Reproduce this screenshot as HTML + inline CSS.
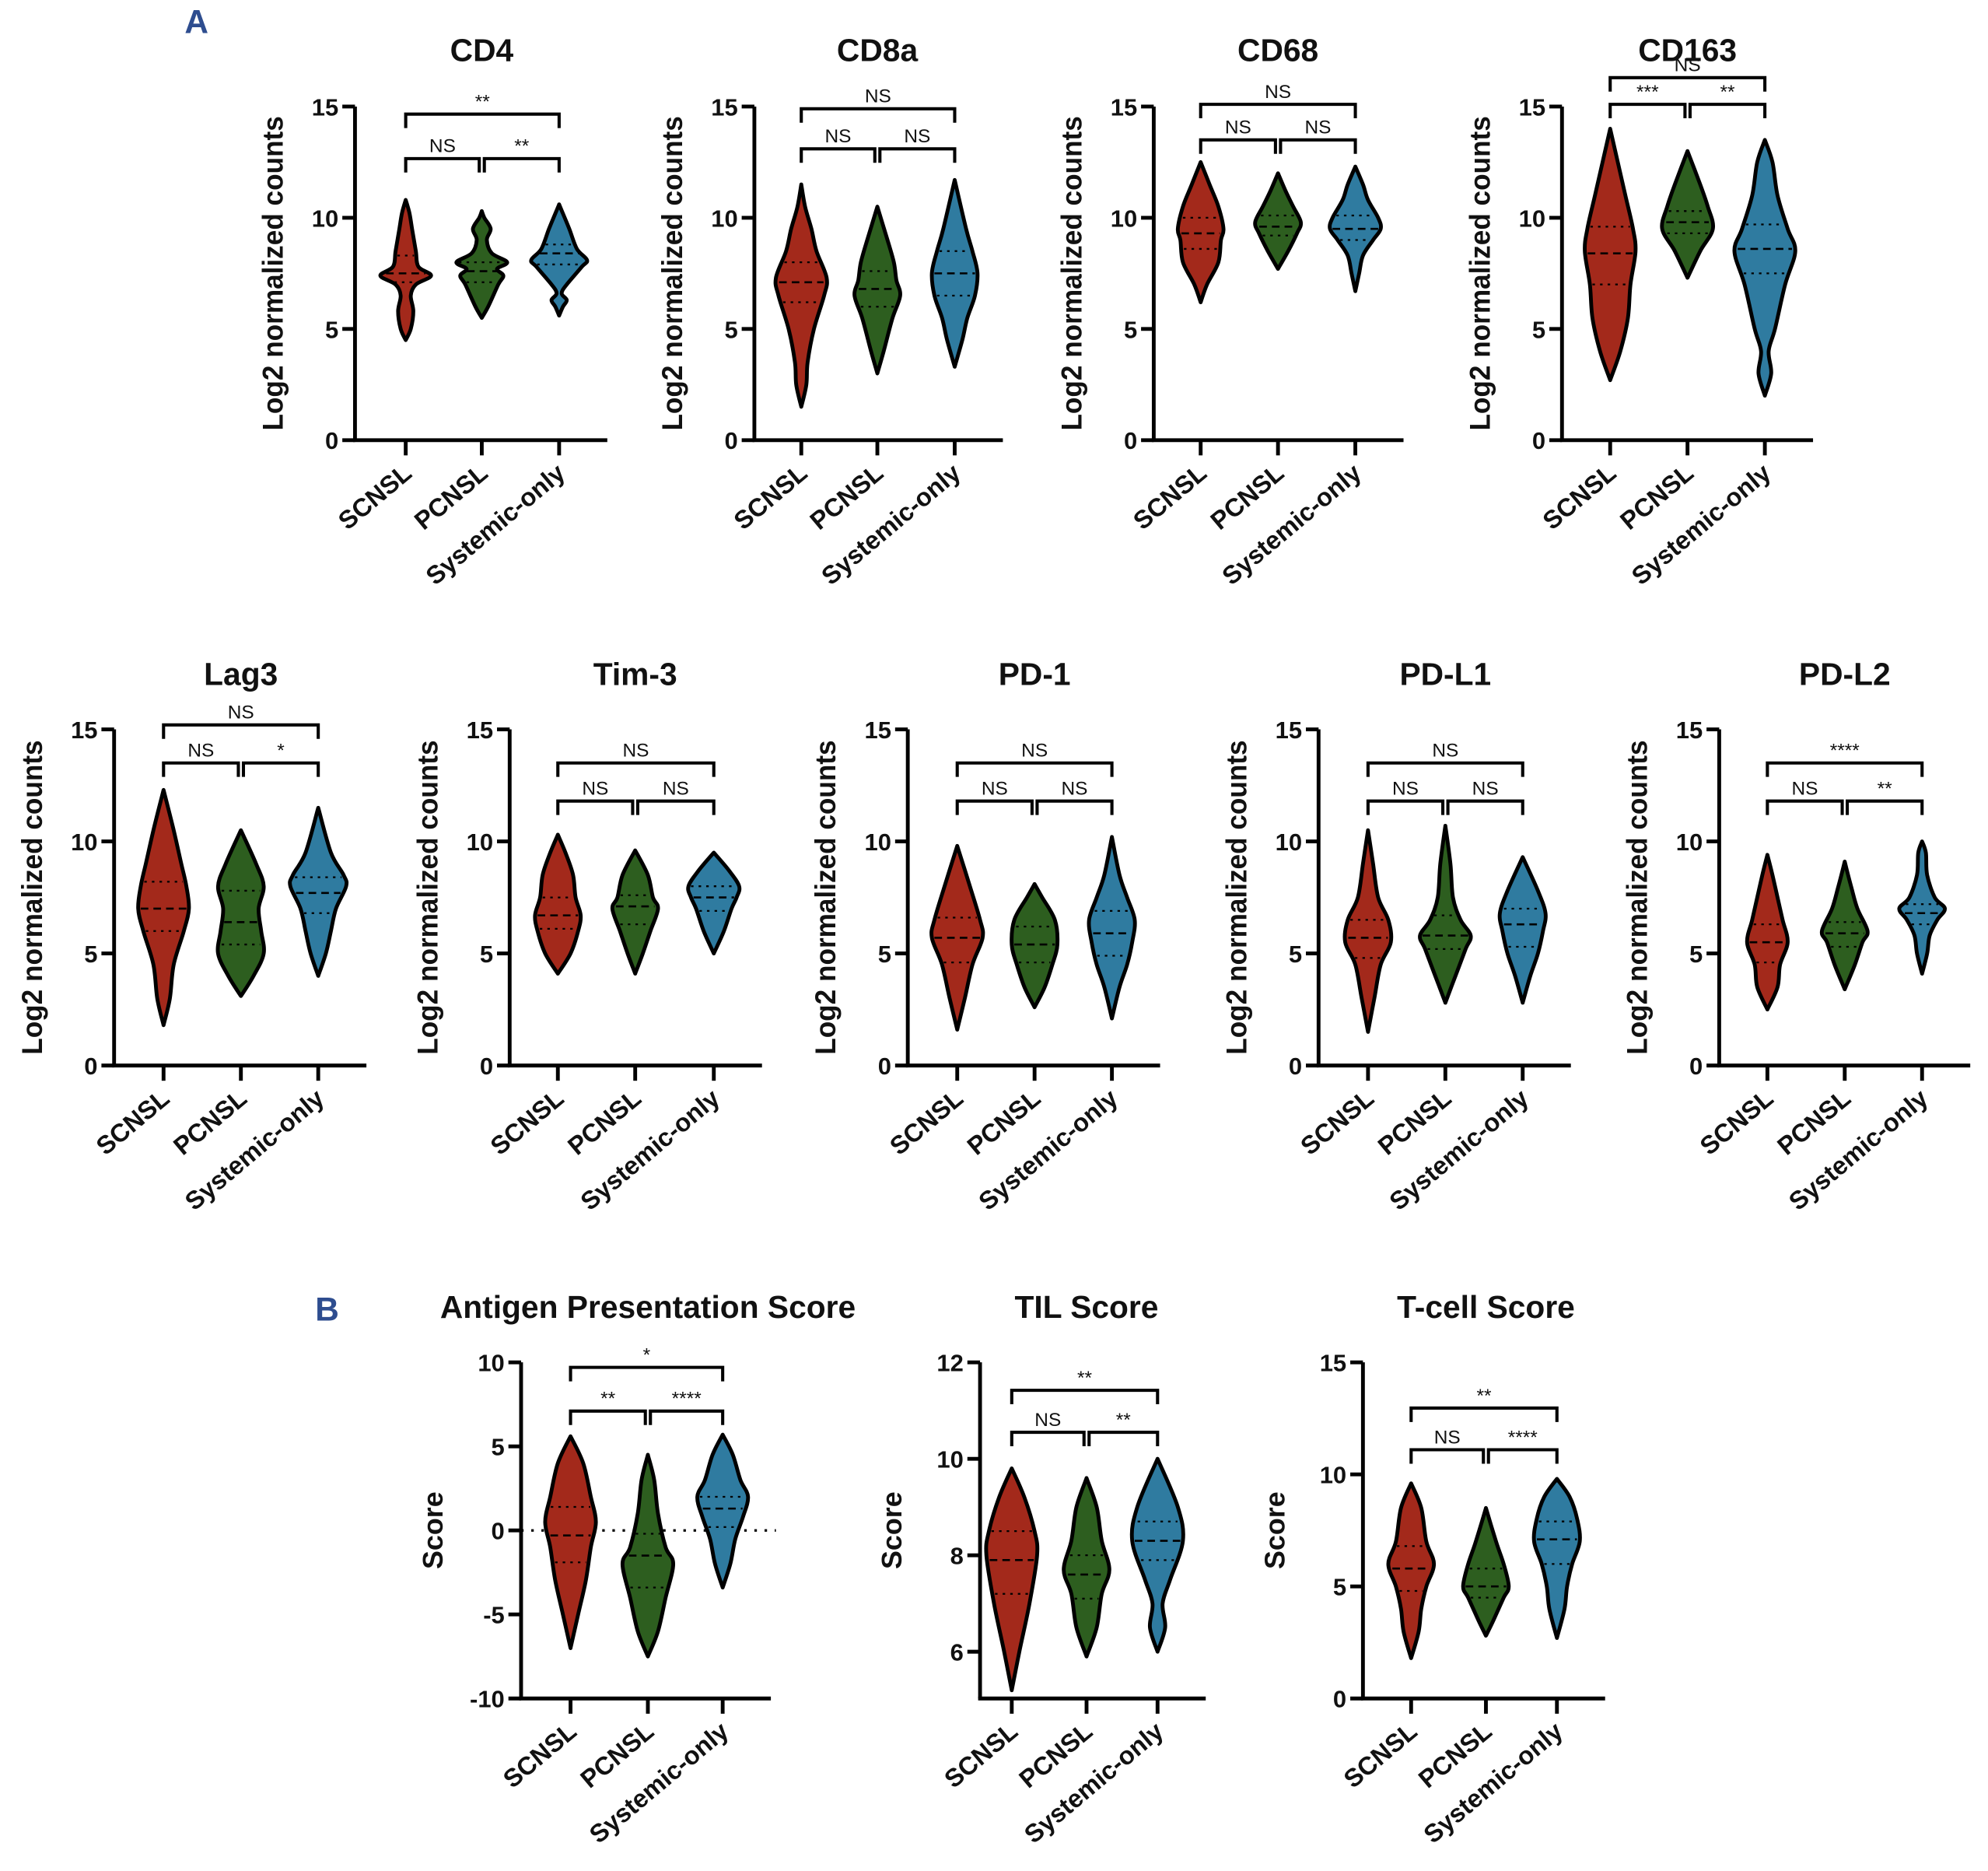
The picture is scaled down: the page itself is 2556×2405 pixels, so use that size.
<!DOCTYPE html>
<html><head><meta charset="utf-8"><style>
html,body{margin:0;padding:0;background:#fff}
svg{display:block}
text{font-family:"Liberation Sans",Arial,sans-serif}
</style></head><body>
<svg id="fig" xmlns="http://www.w3.org/2000/svg" width="2556" height="2405" viewBox="0 0 1568 1475" preserveAspectRatio="none">
<rect width="1568" height="1475" fill="#fff"/>
<text x="155" y="26" font-size="26" font-weight="bold" fill="#2e4d8f" text-anchor="middle">A</text>
<text x="258" y="1041" font-size="26" font-weight="bold" fill="#2e4d8f" text-anchor="middle">B</text>
</svg>
<script>
const groups = ["SCNSL","PCNSL","Systemic-only"];
const colors = ["#a3291b","#2d5e1f","#2f7ba0"];

const titles = ["CD4","CD8a","CD68","CD163","Lag3","Tim-3","PD-1","PD-L1","PD-L2","Antigen Presentation Score","TIL Score","T-cell Score"];
const yLabels = ["Log2 normalized counts","Log2 normalized counts","Log2 normalized counts","Log2 normalized counts","Log2 normalized counts","Log2 normalized counts","Log2 normalized counts","Log2 normalized counts","Log2 normalized counts","Score","Score","Score"];
const yMins = [0,0,0,0,0,0,0,0,0,-10,5.03,0];
const yMaxs = [15,15,15,15,15,15,15,15,15,10,12,15];
const tickSets = [[0,5,10,15],[0,5,10,15],[0,5,10,15],[0,5,10,15],[0,5,10,15],[0,5,10,15],[0,5,10,15],[0,5,10,15],[0,5,10,15],[-10,-5,0,5,10],[6,8,10,12],[0,5,10,15]];

const profiles = [
 [[[4.5,0],[5,4],[5.8,6],[6.5,4],[7,8],[7.4,20],[7.8,10],[8.5,8],[9.5,5],[10.2,3],[10.8,0]],
  [[5.5,0],[6,5],[7,13],[7.4,17],[7.7,12],[8,20],[8.4,8],[9,4],[9.5,7],[10,2],[10.3,0]],
  [[5.6,0],[6,3],[6.3,6],[6.6,2],[7,6],[7.8,18],[8.1,22],[8.6,14],[9.5,8],[10.6,0]]],
 [[[1.5,0],[2.5,4],[3.5,5],[5,10],[6.5,18],[7.3,20],[8.5,12],[9.5,8],[10.5,3],[11.5,0]],
  [[3,0],[4,5],[5.5,12],[6.5,18],[7.2,15],[8,13],[9,8],[10.5,0]],
  [[3.3,0],[4.5,6],[5.5,10],[6.5,16],[7.5,18],[8.5,14],[9.5,9],[11.7,0]]],
 [[[6.2,0],[7,5],[8,14],[9,16],[9.5,18],[10.5,14],[11.5,7],[12.5,0]],
  [[7.7,0],[8.5,8],[9.3,15],[9.8,18],[10.5,12],[11.2,6],[12,0]],
  [[6.7,0],[7.5,3],[8.3,6],[9,14],[9.5,20],[10,18],[10.8,10],[11.5,6],[12.3,0]]],
 [[[2.7,0],[4,8],[5.5,14],[7,16],[8.5,20],[9.5,18],[11,12],[12.5,6],[14,0]],
  [[7.3,0],[8.5,10],[9.5,20],[10.5,16],[11.5,10],[13,0]],
  [[2,0],[3,5],[4,3],[5,8],[7,16],[8.5,24],[9.5,18],[11,10],[12.5,6],[13.5,0]]],
 [[[1.8,0],[3,5],[4.5,8],[6,16],[7,20],[8,18],[9,14],[10.5,8],[12.3,0]],
  [[3.1,0],[4,10],[5,18],[6,16],[7,14],[8,18],[9,12],[10.5,0]],
  [[4,0],[5,6],[6,10],[7,14],[8,22],[8.5,20],[9.5,10],[11.5,0]]],
 [[[4.1,0],[5,10],[6,16],[6.7,18],[7.5,14],[8.5,12],[9.5,6],[10.3,0]],
  [[4.1,0],[5,6],[6,12],[7,18],[7.5,14],[8.5,10],[9.6,0]],
  [[5,0],[6,8],[7,14],[7.5,18],[8,20],[8.7,12],[9.5,0]]],
 [[[1.6,0],[3,6],[4.5,12],[5.7,20],[6.5,18],[8,10],[9.8,0]],
  [[2.6,0],[3.5,8],[4.5,14],[5.4,18],[6.5,16],[7.5,6],[8.1,0]],
  [[2.1,0],[3.5,6],[4.5,12],[5.5,16],[6.5,18],[7.5,12],[8.5,6],[10.2,0]]],
 [[[1.5,0],[3,5],[4.5,10],[5.5,18],[6.5,16],[7.5,8],[9,4],[10.5,0]],
  [[2.8,0],[4,8],[5.2,16],[5.8,20],[6.5,12],[7.5,6],[9,4],[10.7,0]],
  [[2.8,0],[4,6],[5,12],[6,16],[6.8,18],[7.8,12],[9.3,0]]],
 [[[2.5,0],[3.5,8],[4.5,10],[5.5,16],[6.5,12],[7.5,8],[8.5,4],[9.4,0]],
  [[3.4,0],[4.5,8],[5.5,14],[6,18],[7,10],[8,5],[9.1,0]],
  [[4.1,0],[5,4],[5.8,6],[6.5,12],[7,18],[7.5,10],[8.5,4],[9.5,3],[10,0]]],
 [[[-7,0],[-5,6],[-3,12],[-1,16],[0.5,20],[2,16],[4,10],[5.6,0]],
  [[-7.5,0],[-6,8],[-4,14],[-2,20],[-1,14],[1,8],[3,5],[4.5,0]],
  [[-3.4,0],[-2,6],[-0.5,10],[0.8,16],[2,20],[3,14],[4.5,8],[5.7,0]]],
 [[[5.2,0],[6,6],[7,14],[8,20],[8.5,18],[9.2,10],[9.8,0]],
  [[5.9,0],[6.5,8],[7.2,12],[7.7,18],[8.3,12],[9,8],[9.6,0]],
  [[6,0],[6.5,6],[7,4],[7.5,10],[8.3,20],[9,16],[10,0]]],
 [[[1.8,0],[3,6],[4,8],[5,12],[6,18],[7,12],[8.5,8],[9.6,0]],
  [[2.8,0],[3.5,6],[4.5,14],[5,18],[6,14],[7,8],[8.5,0]],
  [[2.7,0],[4,6],[5,8],[6,12],[7,18],[8,16],[9,10],[9.8,0]]]
];
const medians = [[7.5,7.6,8.4],[7.1,6.8,7.5],[9.3,9.6,9.5],[8.4,9.8,8.6],[7,6.4,7.7],[6.7,7.1,7.5],[5.7,5.4,5.9],[5.7,5.8,6.3],[5.5,5.9,6.8],[-0.3,-1.5,1.3],[7.9,7.6,8.3],[5.8,5,7.1]];
const q1s = [[7.1,7.1,7.9],[6.2,6,6.5],[8.6,9.2,9],[7,9.3,7.5],[6,5.4,6.8],[6.1,6.3,6.9],[4.6,4.6,4.9],[4.8,5.2,5.3],[4.6,5.3,6.3],[-1.9,-3.4,0.2],[7.2,7.1,7.9],[4.8,4.5,6]];
const q3s = [[8.3,8,8.8],[8,7.6,8.5],[10,10.1,10.1],[9.6,10.3,9.7],[8.2,7.8,8.4],[7.5,7.6,8],[6.6,6.2,6.9],[6.5,6.7,7],[6.3,6.4,7.2],[1.4,-0.2,2],[8.5,8,8.7],[6.8,5.8,7.9]];

const brackets = [
 [[0,2,14.66,"**"],[0,1,12.66,"NS"],[1,2,12.66,"**"]],
 [[0,2,14.9,"NS"],[0,1,13.1,"NS"],[1,2,13.1,"NS"]],
 [[0,2,15.1,"NS"],[0,1,13.5,"NS"],[1,2,13.5,"NS"]],
 [[0,2,16.3,"NS"],[0,1,15.1,"***"],[1,2,15.1,"**"]],
 [[0,2,15.2,"NS"],[0,1,13.5,"NS"],[1,2,13.5,"*"]],
 [[0,2,13.5,"NS"],[0,1,11.8,"NS"],[1,2,11.8,"NS"]],
 [[0,2,13.5,"NS"],[0,1,11.8,"NS"],[1,2,11.8,"NS"]],
 [[0,2,13.5,"NS"],[0,1,11.8,"NS"],[1,2,11.8,"NS"]],
 [[0,2,13.5,"****"],[0,1,11.8,"NS"],[1,2,11.8,"**"]],
 [[0,2,9.7,"*"],[0,1,7.1,"**"],[1,2,7.1,"****"]],
 [[0,2,11.42,"**"],[0,1,10.55,"NS"],[1,2,10.55,"**"]],
 [[0,2,12.96,"**"],[0,1,11.1,"NS"],[1,2,11.1,"****"]]
];

const layout = [
 {ax:280,cx:[320,380,441],top:84,bot:347,ty:48},
 {ax:595,cx:[632,692,753],top:84,bot:347,ty:48},
 {ax:910,cx:[947,1008,1069],top:84,bot:347,ty:48},
 {ax:1232,cx:[1270,1331,1392],top:84,bot:347,ty:48},
 {ax:90,cx:[129,190,251],top:575,bot:840,ty:540},
 {ax:402,cx:[440,501,563],top:575,bot:840,ty:540},
 {ax:716,cx:[755,816,877],top:575,bot:840,ty:540},
 {ax:1040,cx:[1079,1140,1201],top:575,bot:840,ty:540},
 {ax:1356,cx:[1394,1455,1516],top:575,bot:840,ty:540},
 {ax:411,cx:[450,511,570],top:1074,bot:1339,ty:1039,zero:true},
 {ax:773,cx:[798,857,913],top:1074,bot:1339,ty:1039},
 {ax:1075,cx:[1113,1172,1228],top:1074,bot:1339,ty:1039}
];

const NS="http://www.w3.org/2000/svg";
const svg=document.getElementById('fig');
function mk(tag,attrs,parent){const e=document.createElementNS(NS,tag);for(const k in attrs)e.setAttribute(k,attrs[k]);(parent||svg).appendChild(e);return e;}

function spline(pts){
 let d="";
 for(let i=0;i<pts.length-1;i++){
  const p0=pts[Math.max(0,i-1)],p1=pts[i],p2=pts[i+1],p3=pts[Math.min(pts.length-1,i+2)];
  const c1=[p1[0]+(p2[0]-p0[0])/6,p1[1]+(p2[1]-p0[1])/6];
  const c2=[p2[0]-(p3[0]-p1[0])/6,p2[1]-(p3[1]-p1[1])/6];
  d+=` C${c1[0].toFixed(1)},${c1[1].toFixed(1)} ${c2[0].toFixed(1)},${c2[1].toFixed(1)} ${p2[0].toFixed(1)},${p2[1].toFixed(1)}`;
 }
 return d;
}

titles.forEach((t,p)=>{
 const L=layout[p];
 const g=mk('g',{});
 
 
 const y=v=>L.bot-(v-yMins[p])/(yMaxs[p]-yMins[p])*(L.bot-L.top);
 const xEnd=L.cx[2]+38;
 const titleX = p===9 ? 511 : L.cx[1];
 const tt=mk('text',{x:titleX,y:L.ty,'font-size':25,'font-weight':'bold','text-anchor':'middle',fill:'#111'},g);
 tt.textContent=t;
 
 
 const ya=mk('line',{x1:L.ax,y1:L.top,x2:L.ax,y2:L.bot,stroke:'#000','stroke-width':3},g);
 
 
 const xa=mk('line',{x1:L.ax-1.5,y1:L.bot,x2:xEnd,y2:L.bot,stroke:'#000','stroke-width':3},g);
 
 
 tickSets[p].forEach(v=>{
  mk('line',{x1:L.ax-10,y1:y(v),x2:L.ax,y2:y(v),stroke:'#000','stroke-width':3},g);
  const tl=mk('text',{x:L.ax-13,y:y(v)+7,'font-size':19,'font-weight':'bold','text-anchor':'end',fill:'#111'},g);
  tl.textContent=v;
  
  
 });
 const isScore = yLabels[p]==='Score';
 const ylAttrs={x:0,y:0,'font-size':isScore?22:23,'font-weight':'bold','text-anchor':'middle',fill:'#111',transform:`translate(${L.ax-(isScore?62:57)},${(L.top+L.bot)/2}) rotate(-90)`};
 if(!isScore){ylAttrs.textLength=248;ylAttrs.lengthAdjust='spacingAndGlyphs';}
 const yl=mk('text',ylAttrs,g);
 yl.textContent=yLabels[p];
 
 
 if(L.zero){
  const zl=mk('line',{x1:L.ax,y1:y(0),x2:xEnd+4,y2:y(0),stroke:'#000','stroke-width':2,'stroke-dasharray':'2,6'},g);
  
  
 }
 groups.forEach((gr,i)=>{
  const cx=L.cx[i];
  const prof=profiles[p][i];
  const right=prof.map(([v,w])=>[cx+w,y(v)]);
  const left=prof.slice().reverse().map(([v,w])=>[cx-w,y(v)]);
  let d=`M${right[0][0]},${right[0][1]}`+spline(right)+` L${left[0][0]},${left[0][1]}`+spline(left)+'Z';
  const vp=mk('path',{d:d,fill:colors[i],stroke:'#000','stroke-width':3,'stroke-linejoin':'round'},g);
  
  
  const hw=v=>{for(let k=0;k<prof.length-1;k++){if(v>=prof[k][0]&&v<=prof[k+1][0]){const f=(v-prof[k][0])/(prof[k+1][0]-prof[k][0]);return prof[k][1]+f*(prof[k+1][1]-prof[k][1]);}}return 0;};
  const lines=[[medians[p][i],'6,4',1.6],[q1s[p][i],'2,4',1.4],[q3s[p][i],'2,4',1.4]];
  lines.forEach(([v,da,sw])=>{
   const w=hw(v)-2;
   if(w>0) mk('line',{x1:cx-w,y1:y(v),x2:cx+w,y2:y(v),stroke:'#000','stroke-width':sw,'stroke-dasharray':da},g);
  });
  mk('line',{x1:cx,y1:L.bot,x2:cx,y2:L.bot+12,stroke:'#000','stroke-width':3},g);
  const cl=mk('text',{x:0,y:0,'font-size':20,'font-weight':'bold','text-anchor':'end',fill:'#111',transform:`translate(${cx+6},${L.bot+28}) rotate(-40)`},g);
  cl.textContent=gr;
  
  
 });
 brackets[p].forEach(([a,b,v,lab])=>{
  const by=y(v);
  const x1=L.cx[a]+(a===1?2:0), x2=L.cx[b]-(b===1?2:0);
  const bp=mk('path',{d:`M${x1},${by+11} L${x1},${by} L${x2},${by} L${x2},${by+11}`,fill:'none',stroke:'#000','stroke-width':2.5},g);
  
  
  const bl=mk('text',{x:(x1+x2)/2,y:by-5,'font-size':15,'text-anchor':'middle',fill:'#111'},g);
  bl.textContent=lab;
  
  
 });
});
</script>
</body></html>
